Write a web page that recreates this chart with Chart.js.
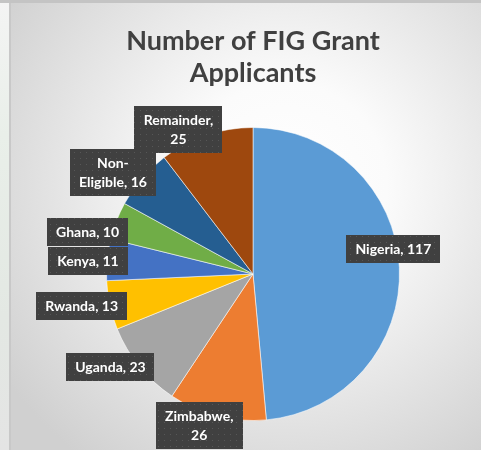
<!DOCTYPE html>
<html>
<head>
<meta charset="utf-8">
<script src="https://cdn.jsdelivr.net/npm/chart.js@4.4.1/dist/chart.umd.min.js"></script>
<style>
  html, body { margin: 0; padding: 0; background: #fff; }
  canvas { display: block; }
</style>
</head>
<body>
<canvas id="graficaFIG" width="481" height="450"></canvas>
<script>
// datos
const categorias = ['Nigeria', 'Zimbabwe', 'Uganda', 'Rwanda', 'Kenya', 'Ghana', 'Non-Eligible', 'Remainder'];
const valores = [117, 26, 23, 13, 11, 10, 16, 25];
const colores = ['#5B9BD5', '#ED7D31', '#A5A5A5', '#FFC000', '#4472C4', '#70AD47', '#255E91', '#9E480E'];

// colocacion de etiquetas (ajuste angular en grados y factor de radio)
const ajusteAngulo = [-7.4, 5.4, 6.2, 1.8, -1.1, -7.1, -4.8, -8.6];
const ajusteRadio = [0.973, 1.095, 1.16, 1.19, 1.13, 1.165, 1.18, 1.11];
// 0 = una linea, 1 = cortar tras la coma, 2 = cortar tras el guion
const cortes = [0, 1, 0, 0, 0, 0, 2, 1];

function lineasEtiqueta(i) {
    const txt = categorias[i] + ', ' + valores[i];
    if (cortes[i] === 1) {
        const p = txt.indexOf(', ');
        return [txt.slice(0, p + 1), txt.slice(p + 2)];
    }
    if (cortes[i] === 2) {
        const p = txt.indexOf('-');
        return [txt.slice(0, p + 1), txt.slice(p + 1)];
    }
    return [txt];
}

// fondo tipo diapositiva
const fondo = {
    id: 'fondo',
    beforeDraw(chart) {
        const ctx = chart.ctx;
        const W = chart.width, H = chart.height;
        ctx.save();
        // franja izquierda
        const g1 = ctx.createLinearGradient(0, 0, 0, H);
        g1.addColorStop(0, '#f4f4f4');
        g1.addColorStop(0.3, '#e9efe9');
        g1.addColorStop(0.7, '#e3e8e3');
        g1.addColorStop(1, '#e4e4e4');
        ctx.fillStyle = g1;
        ctx.fillRect(0, 0, 10, H);
        // area del grafico con degradado radial
        const g = ctx.createRadialGradient(285, 185, 0, 285, 185, 340);
        g.addColorStop(0, '#ffffff');
        g.addColorStop(0.3, '#fbfbfb');
        g.addColorStop(1, '#d0d0d0');
        ctx.fillStyle = g;
        ctx.fillRect(10, 3, W - 10, H - 3);
        ctx.fillStyle = '#c4c4c4';
        ctx.fillRect(0, 0, W, 3);
        ctx.fillStyle = '#c8c8c8';
        ctx.fillRect(9, 3, 2, H - 3);
        ctx.restore();
    }
};

// patron punteado de las cajas
function patronCaja(ctx) {
    const c = document.createElement('canvas');
    c.width = 6; c.height = 6;
    const p = c.getContext('2d');
    p.fillStyle = '#404040';
    p.fillRect(0, 0, 6, 6);
    p.fillStyle = '#575757';
    p.fillRect(2, 2, 1, 1);
    return ctx.createPattern(c, 'repeat');
}

const etiquetas = {
    id: 'etiquetas',
    afterDatasetsDraw(chart) {
        const ctx = chart.ctx;
        const meta = chart.getDatasetMeta(0);
        const patron = patronCaja(ctx);
        ctx.save();
        ctx.font = 'bold 14px Lato';
        ctx.textAlign = 'center';
        ctx.textBaseline = 'middle';
        meta.data.forEach((arc, i) => {
            const mid = (arc.startAngle + arc.endAngle) / 2 + ajusteAngulo[i] * Math.PI / 180;
            const r = arc.outerRadius * ajusteRadio[i];
            const cx = arc.x + Math.cos(mid) * r;
            const cy = arc.y + Math.sin(mid) * r;
            const lineas = lineasEtiqueta(i);
            const alto = 19;
            let ancho = 0;
            lineas.forEach(l => { ancho = Math.max(ancho, ctx.measureText(l).width); });
            const w = Math.round(ancho + 18);
            const h = lineas.length * alto + 9;
            const x0 = Math.round(cx - w / 2), y0 = Math.round(cy - h / 2);
            ctx.fillStyle = patron;
            ctx.fillRect(x0, y0, w, h);
            ctx.fillStyle = '#ffffff';
            lineas.forEach((l, k) => {
                ctx.fillText(l, cx, y0 + 4.5 + alto * k + alto / 2 + 0.5);
            });
        });
        ctx.restore();
    }
};

new Chart(document.getElementById('graficaFIG'), {
    type: 'pie',
    data: {
        labels: categorias,
        datasets: [{
            data: valores,
            backgroundColor: colores,
            borderColor: 'rgba(255,255,255,0.55)',
            borderWidth: 1
        }]
    },
    options: {
        responsive: false,
        animation: false,
        layout: {
            padding: { top: 0, left: 106, right: 81, bottom: 29 }
        },
        plugins: {
            legend: { display: false },
            tooltip: { enabled: false },
            title: {
                display: true,
                text: ['Number of FIG Grant', 'Applicants'],
                color: '#404040',
                font: { family: 'Lato', size: 27, weight: 'bold', lineHeight: 1.185 },
                padding: { top: 25, bottom: 38 }
            }
        }
    },
    plugins: [fondo, etiquetas]
});
</script>
</body>
</html>
